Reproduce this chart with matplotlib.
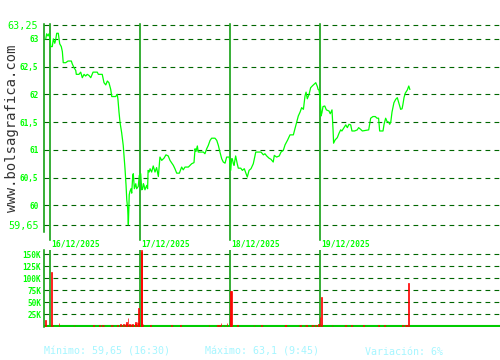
import numpy as np
import matplotlib
matplotlib.use("Agg")
import matplotlib.pyplot as plt

# price, time in trading minutes since 16/12 09:00 (510 min per session)
price_t = [-24, -19, -11, -6, 0, 4, 13, 19, 27, 32, 38, 47, 55, 64, 70, 75, 89, 102, 121, 126,
           136, 146, 149, 164, 174, 183, 193, 202, 211, 221, 231, 244, 268, 274, 296, 306, 316, 325, 334, 344,
           350, 372, 381, 385, 391, 397, 406, 415, 421, 425, 431, 435, 440, 444, 449, 453, 459, 463, 469, 472,
           478, 486, 491, 500, 506,
           514, 520, 525, 529, 533, 538, 548, 553, 556, 562, 567, 576, 585, 595, 604, 614, 623, 633, 646, 657,
           670, 680, 699, 708, 718, 733, 746, 755, 765, 784, 803, 816, 822, 827, 835, 840, 869, 878, 888, 897,
           907, 916, 935, 945, 954, 963, 973, 982, 992, 1001, 1016,
           1024, 1029, 1033, 1039, 1043, 1052, 1061, 1067, 1081, 1090, 1101, 1111, 1118, 1128, 1139, 1152, 1166,
           1196, 1209, 1218, 1228, 1241, 1252, 1265, 1271, 1284, 1299, 1309, 1322, 1332, 1347, 1360, 1379, 1388,
           1398, 1407, 1417, 1426, 1436, 1445, 1451, 1458, 1468, 1477, 1486, 1496, 1506, 1515, 1519, 1524,
           1530, 1534, 1536, 1541, 1547, 1557, 1566, 1581, 1588, 1598, 1604, 1607, 1616, 1628, 1638, 1647, 1654,
           1666, 1676, 1685, 1694, 1704, 1711, 1726, 1741, 1749, 1760, 1770, 1806, 1817, 1830, 1843, 1853, 1862,
           1868, 1887, 1893, 1902, 1910, 1919, 1925, 1931, 1938, 1949, 1959, 1968, 1976, 1987, 1995, 2000, 2006,
           2013, 2025, 2033, 2039]
price = [63.0, 63.09, 63.05, 63.09, 63.03, 62.86, 62.86, 63.0, 62.92, 62.98, 63.1, 63.1, 62.91, 62.86, 62.77,
         62.57, 62.57, 62.6, 62.6, 62.55, 62.48, 62.43, 62.36, 62.36, 62.4, 62.3, 62.36, 62.33, 62.36, 62.34,
         62.3, 62.4, 62.4, 62.36, 62.36, 62.21, 62.17, 62.24, 62.21, 62.09, 61.96, 61.96, 62.0, 61.91, 61.68,
         61.49, 61.31, 61.08, 60.84, 60.66, 60.36, 60.1, 59.95, 59.65, 60.19, 60.25, 60.3, 60.22, 60.54, 60.57,
         60.3, 60.39, 60.3, 60.34, 60.54,
         60.57, 60.28, 60.3, 60.39, 60.36, 60.28, 60.36, 60.3, 60.63, 60.6, 60.66, 60.6, 60.71, 60.6, 60.68,
         60.52, 60.87, 60.81, 60.85, 60.91, 60.89, 60.81, 60.72, 60.66, 60.58, 60.58, 60.69, 60.64, 60.69,
         60.69, 60.75, 60.77, 61.02, 60.97, 61.07, 60.96, 60.96, 60.93, 61.02, 61.08, 61.17, 61.21, 61.21,
         61.17, 61.08, 60.96, 60.84, 60.78, 60.76, 60.87, 60.87,
         60.63, 60.84, 60.84, 60.75, 60.72, 60.89, 60.75, 60.67, 60.67, 60.63, 60.66, 60.57, 60.51, 60.63,
         60.66, 60.75, 60.96, 60.96, 60.91, 60.93, 60.89, 60.85, 60.83, 60.78, 60.9, 60.87, 60.89, 60.96,
         60.99, 61.09, 61.18, 61.27, 61.27, 61.38, 61.5, 61.61, 61.68, 61.76, 61.73, 61.97, 62.04, 61.92,
         62.0, 62.12, 62.15, 62.18, 62.21, 62.14, 62.09, 62.08,
         61.97, 61.73, 61.61, 61.67, 61.78, 61.79, 61.72, 61.7, 61.65, 61.72, 61.36, 61.12, 61.18, 61.22,
         61.3, 61.36, 61.34, 61.4, 61.45, 61.4, 61.46, 61.45, 61.34, 61.34, 61.36, 61.4, 61.37, 61.34, 61.36,
         61.57, 61.6, 61.6, 61.57, 61.57, 61.34, 61.34, 61.46, 61.57, 61.51, 61.5, 61.46, 61.5, 61.68, 61.85,
         61.91, 61.94, 61.85, 61.73, 61.74, 61.82, 61.94, 62.02, 62.08, 62.15, 62.09]

vol_t = [-23, 6, 17, 51, 136, 249, 278, 300, 306, 346, 357, 385, 402, 408, 419, 425, 431, 436, 442, 448,
         453, 459, 465, 470, 482, 487, 493, 499, 504, 516, 521, 527, 567, 691, 742, 901, 947, 952, 958, 969,
         986, 1003, 1020, 1025, 1031, 1060, 1156, 1201, 1332, 1337, 1411, 1417, 1445, 1456, 1479, 1490, 1502,
         1519, 1530, 1536, 1598, 1677, 1711, 1779, 1864, 1893, 1995, 2013, 2018, 2034]
vol_k = [12, 113, 3, 6, 2, 2, 2, 3, 3, 2, 3, 3, 4, 3, 4, 5, 8, 5, 16, 4,
         3, 5, 4, 3, 4, 9, 9, 6, 38, 158, 154, 4, 2, 2, 2, 2, 3, 3, 3, 6,
         3, 7, 18, 73, 72, 2, 2, 2, 2, 2, 3, 3, 3, 2, 3, 3, 3,
         4, 18, 61, 3, 2, 2, 2, 2, 2, 2, 3, 3, 90]

day_starts = [0, 510, 1020, 1530]
day_labels = ["16/12/2025", "17/12/2025", "18/12/2025", "19/12/2025"]

price_ticks = [63.25, 63, 62.5, 62, 61.5, 61, 60.5, 60, 59.65]
price_labels = ["63,25", "63", "62,5", "62", "61,5", "61", "60,5", "60", "59,65"]
vol_ticks = [25000, 50000, 75000, 100000, 125000, 150000]
vol_labels = ["25K", "50K", "75K", "100K", "125K", "150K"]

footer = ["Mínimo: 59,65 (16:30)", "Máximo: 63,1 (9:45)", "Variación: 6%"]

W, H = 500, 360
mono = "DejaVu Sans Mono"
green = "#00ff00"
grid_col = "#006600"
day_col = "#009900"
dash = (0, (4.3, 3.8))

fig = plt.figure(figsize=(5, 3.6), dpi=100)

# price panel
ax = fig.add_axes([44 / W, 1 - 232 / H, 456 / W, 207.6 / H])
ax.plot(price_t, price, color=green, lw=0.9, zorder=3)
ax.set_xlim(-34, 2550)
ax.set_ylim(59.52, 63.26)
ax.set_yticks(price_ticks)
ax.set_yticklabels(price_labels)
for i, lab in enumerate(ax.get_yticklabels()):
    lab.set_color(green)
    lab.set_family(mono)
    if i == 0 or i == len(price_ticks) - 1:
        lab.set_fontsize(7.3)
    else:
        lab.set_fontsize(5.6)
        lab.set_fontweight("bold")
ax.tick_params(axis="y", length=0, pad=4)
ax.set_xticks([])
ax.yaxis.grid(True, color=grid_col, linestyle=dash, lw=0.8)
ax.set_axisbelow(True)
for s in ["top", "right", "bottom"]:
    ax.spines[s].set_visible(False)
ax.spines["left"].set_color(day_col)
ax.spines["left"].set_linewidth(1.1)
for d in day_starts:
    ax.axvline(d, ymin=-0.04, ymax=1, color=day_col, lw=1.1, clip_on=False, zorder=2)

# day labels
for d, lab in zip(day_starts, day_labels):
    xf = (50 + d / 510 * 90 + 1.5) / W
    fig.text(xf, 1 - 244 / H, lab, color=green, fontsize=5.8, fontweight="bold",
             family=mono, ha="left", va="center")

# volume panel
ax2 = fig.add_axes([44 / W, 1 - 327 / H, 456 / W, 77 / H])
ax2.bar(vol_t, np.array(vol_k) * 1000, width=5.5, color="red", edgecolor="red",
        linewidth=0.5, zorder=5)
ax2.axhline(0, color="#00cc00", lw=1.5, zorder=4)
ax2.set_xlim(-34, 2550)
ax2.set_ylim(-2000, 158500)
ax2.set_yticks(vol_ticks)
ax2.set_yticklabels(vol_labels)
for lab in ax2.get_yticklabels():
    lab.set_color(green)
    lab.set_family(mono)
    lab.set_fontsize(5.6)
    lab.set_fontweight("bold")
ax2.tick_params(axis="y", length=0, pad=2)
ax2.set_xticks([])
ax2.yaxis.grid(True, color=grid_col, linestyle=dash, lw=0.8)
ax2.set_axisbelow(True)
for s in ["top", "right", "bottom"]:
    ax2.spines[s].set_visible(False)
ax2.spines["left"].set_color(day_col)
ax2.spines["left"].set_linewidth(1.1)
for d in day_starts:
    ax2.axvline(d, color=day_col, lw=1.1, zorder=2)

# watermark
fig.text(12 / W, 1 - 128 / H, "www.bolsagrafica.com", rotation=90, color="#333333",
         fontsize=10, family=mono, ha="center", va="center")

# footer
for xp, txt in zip([44, 205, 365], footer):
    fig.text(xp / W, 1 - 352 / H, txt, color="#a6f6ff", fontsize=7.2, family=mono,
             ha="left", va="center")

fig.savefig("out.png", dpi=100, facecolor="white")
